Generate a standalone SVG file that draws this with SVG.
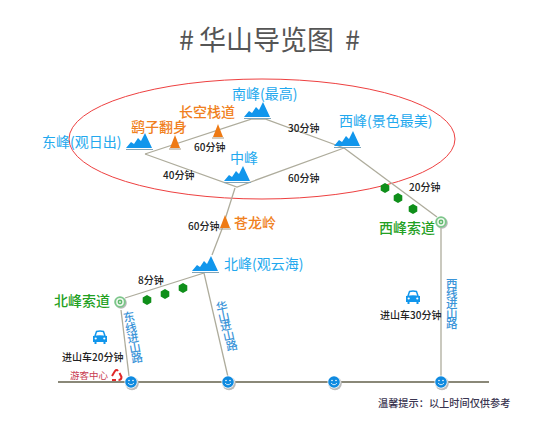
<svg xmlns="http://www.w3.org/2000/svg" width="543" height="430" viewBox="0 0 543 430">
<style>
text{font-family:"Noto Sans CJK SC","Liberation Sans",sans-serif}
.title{font-size:27px;fill:#555}
.blue{font-size:14px;fill:#22a8ee}
.orange{font-size:14px;fill:#f08020;font-weight:500}
.green{font-size:14px;fill:#22a022;font-weight:500}
.time{font-size:10px;fill:#222;font-weight:500}
.road{font-size:11.5px;fill:#3a94d8;font-weight:500}
.tip{font-size:10.200px;fill:#3a3550;font-weight:500}
.line{fill:none;stroke:#aeac9c;stroke-width:1.300}
.ground{fill:none;stroke:#8a8878;stroke-width:2}
</style>
<defs>
<g id="mountain">
<path d="M0 15 L5 9 L8 11 L12 5 L15 8 L19 0 L26 15Z" fill="#1196ec"/>
<path d="M0 16.500H27" stroke="#7fa4b8" stroke-width="1"/>
</g>
<g id="cone">
<path d="M0 13 L5 0 L10 13Z" fill="#ee7a14"/>
<path d="M-1 14H11" stroke="#a89a80" stroke-width="1"/>
</g>
<path id="tree" d="M0 -5 L4.300 -2.500 L4.300 2.500 L0 5 L-4.300 2.500 L-4.300 -2.500Z" fill="#0f8f1a"/>
<g id="target">
<circle cx="1" cy="1" r="5.800" fill="#bbb"/>
<circle r="5.800" fill="#7cc68a"/>
<circle r="3.900" fill="#eef8ee"/>
<circle r="2.400" fill="#5fb86c"/>
<circle r=".9" fill="#eef8ee"/>
</g>
<g id="smile">
<circle cx="1" cy="1.500" r="6.800" fill="#bbb"/>
<circle r="6.500" fill="#fff"/>
<circle r="5.800" fill="#0f8ae0"/>
<circle cx="-2" cy="-1.500" r=".8" fill="#fff"/>
<circle cx="2" cy="-1.500" r=".8" fill="#fff"/>
<path d="M-3 1 Q0 4.500 3 1" fill="none" stroke="#fff" stroke-width=".8"/>
</g>
<g id="car">
<path d="M-5 -2 L-3.500 -6.500 Q0 -7.500 3.500 -6.500 L5 -2" fill="none" stroke="#1196ec" stroke-width="1.500"/>
<path d="M-7 -2 Q0 -3.500 7 -2 L7 4 L5.500 4 L5.500 6 L3.500 6 L3.500 4 L-3.500 4 L-3.500 6 L-5.500 6 L-5.500 4 L-7 4Z" fill="#1196ec"/>
<circle cx="-4.300" cy="0.500" r="1.100" fill="#fff"/>
<circle cx="4.300" cy="0.500" r="1.100" fill="#fff"/>
</g>
</defs>
<rect width="543" height="430" fill="#fff"/>
<text class="title" x="179" y="50">#</text>
<text class="title" x="199" y="50">华山导览图</text>
<text class="title" x="345" y="50">#</text>
<ellipse id="summit-ring" cx="262" cy="139" rx="193" ry="60" fill="none" stroke="#ee4040" stroke-width="1"/>
<g id="connectors">
<path class="line" d="M145 154 L252 119 L265 119 L344 148"/>
<path class="line" d="M145 154 L237 187 L344 148"/>
<path class="line" d="M344 148 L437 217"/>
<path class="line" d="M441 226 V378"/>
<path class="line" d="M235 188 L222 229 L212 255"/>
<path class="line" d="M125 298 L204 273 L228 377"/>
<path class="line" d="M121 310 L129 376"/>
<path class="ground" d="M58 382 H489"/>
</g>
<g id="dongfeng"><use href="#mountain" x="126" y="133"/><text class="blue" x="42" y="147">东峰(观日出)</text></g>
<g id="nanfeng"><use href="#mountain" x="244" y="102"/><text class="blue" x="232" y="99">南峰(最高)</text></g>
<g id="xifeng"><use href="#mountain" x="334" y="131"/><text class="blue" x="339" y="126">西峰(景色最美)</text></g>
<g id="zhongfeng"><use href="#mountain" x="224" y="166"/><text class="blue" x="230" y="163">中峰</text></g>
<g id="beifeng"><use href="#mountain" x="192" y="256"/><text class="blue" x="224" y="269">北峰(观云海)</text></g>
<g id="yaozi"><use href="#cone" x="170" y="135"/><text class="orange" x="131" y="132">鹞子翻身</text></g>
<g id="changkong"><use href="#cone" x="213" y="124"/><text class="orange" x="179" y="117">长空栈道</text></g>
<g id="canglong"><use href="#cone" x="220" y="215"/><text class="orange" x="234" y="228">苍龙岭</text></g>
<g id="xifeng-cableway"><use href="#target" x="441" y="222"/><text class="green" x="379" y="233">西峰索道</text></g>
<g id="beifeng-cableway"><use href="#target" x="120" y="302"/><text class="green" x="54" y="306">北峰索道</text></g>
<g id="trees">
<use href="#tree" x="147" y="300"/><use href="#tree" x="165" y="294"/><use href="#tree" x="183" y="288"/>
<use href="#tree" x="385" y="188"/><use href="#tree" x="398" y="198"/><use href="#tree" x="413" y="209"/>
</g>
<g id="times">
<text class="time" x="194" y="151">60分钟</text>
<text class="time" x="163" y="179">40分钟</text>
<text class="time" x="288" y="132">30分钟</text>
<text class="time" x="288" y="182">60分钟</text>
<text class="time" x="409" y="191">20分钟</text>
<text class="time" x="188" y="230">60分钟</text>
<text class="time" x="138" y="284">8分钟</text>
</g>
<g id="east-road-label"><text class="road" x="124 126 128 130 132" y="322 333 343 353 363" rotate="-10">东线进山路</text></g>
<g id="huashan-road-label"><text class="road" x="217 219 221 224 227" y="312 322 331 341 351" rotate="-12">华山进山路</text></g>
<g id="west-road-label"><text class="road" x="446 446 446 446 446" y="288 298 308 318 328">西线进山路</text></g>
<g id="car-east"><use href="#car" x="100" y="338"/><text class="time" x="62" y="361">进山车20分钟</text></g>
<g id="car-west"><use href="#car" x="413" y="298"/><text class="time" x="380" y="319">进山车30分钟</text></g>
<g id="visitor-centre">
<text x="70" y="379" font-size="9.500" fill="#c83a50">游客中心</text>
<g fill="none" stroke="#e02828" stroke-width="2">
<path d="M112 376 L115 371 Q116.500 369 118 371"/>
<path d="M119.500 373 L121.500 377 Q121.500 380 118.500 380"/>
<path d="M116 380 H112"/>
</g>
</g>
<g id="stops">
<use href="#smile" x="131" y="382"/><use href="#smile" x="228" y="382"/><use href="#smile" x="334" y="382"/><use href="#smile" x="441" y="382"/>
</g>
<text class="tip" x="378" y="406.500">温馨提示：以上时间仅供参考</text>
</svg>
